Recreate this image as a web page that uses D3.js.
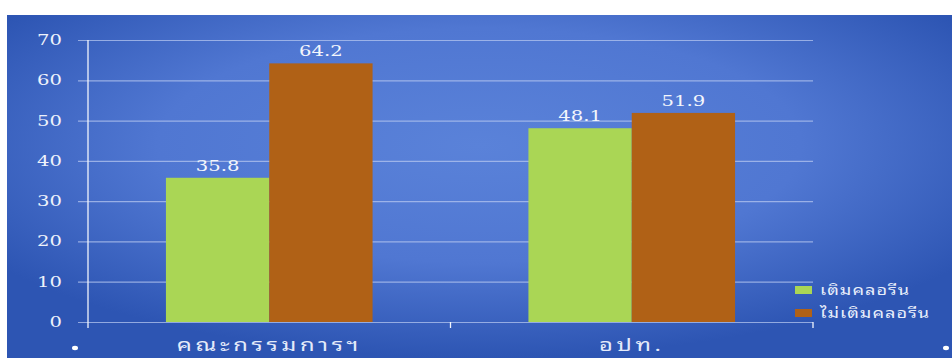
<!DOCTYPE html>
<html>
<head>
<meta charset="utf-8">
<script src="https://cdn.jsdelivr.net/npm/d3@7"></script>
<style>
  body { margin: 0; background: #fff; }
  svg { display: block; }
</style>
</head>
<body>
<div id="chart"></div>
<script>
// data
var categories = ["คณะกรรมการฯ", "อปท."];
var seriesNames = ["เติมคลอรีน", "ไม่เติมคลอรีน"];
var withChlorine = [35.8, 48.1];
var withoutChlorine = [64.2, 51.9];
var yTicks = [0, 10, 20, 30, 40, 50, 60, 70];

var seriesColors = ["#aad655", "#b06116"];

// the source picture is stretched sideways, so text gets a horizontal scale
var stretch = 1.4;
var thaiFont = "'Noto Sans Thai Looped', 'Noto Sans Thai', 'Noto Sans', sans-serif";

var W = 952, H = 358;
var margin = { top: 40, right: 139, bottom: 36, left: 88 },
    plotW = W - margin.left - margin.right,
    plotH = H - margin.top - margin.bottom;

var svg = d3.select("#chart").append("svg")
    .attr("width", W)
    .attr("height", H);

// background panel with soft radial light
var defs = svg.append("defs");
var grad = defs.append("radialGradient")
    .attr("id", "bg")
    .attr("cx", "50%").attr("cy", "38%")
    .attr("r", "62%");
grad.append("stop").attr("offset", "0%").attr("stop-color", "#5a82d9");
grad.append("stop").attr("offset", "55%").attr("stop-color", "#5077d2");
grad.append("stop").attr("offset", "100%").attr("stop-color", "#2d55b3");

svg.append("rect")
    .attr("x", 7).attr("y", 15)
    .attr("width", W - 7).attr("height", H - 15)
    .attr("fill", "url(#bg)");

var g = svg.append("g")
    .attr("transform", "translate(" + margin.left + "," + margin.top + ")");

var y = d3.scaleLinear().domain([0, 70]).range([plotH, 0]);

var x0 = d3.scaleBand()
    .domain(categories)
    .range([0, plotW])
    .paddingInner(0.43)
    .paddingOuter(0.215);

var x1 = d3.scaleBand()
    .domain(seriesNames)
    .range([0, x0.bandwidth()]);

// gridlines + tick labels
var yAxis = g.append("g")
    .attr("transform", "translate(-10,0)")
    .call(d3.axisLeft(y).tickValues(yTicks).tickSize(-(plotW + 10)).tickPadding(16 / stretch));
yAxis.select(".domain").remove();
yAxis.selectAll(".tick line")
    .attr("stroke", "#b4c6ef")
    .attr("stroke-opacity", 0.75)
    .attr("stroke-width", 1.2);
yAxis.selectAll(".tick text")
    .attr("fill", "#eef2fb")
    .attr("transform", "scale(" + stretch + ",1)")
    .style("font-family", "'DejaVu Serif', serif")
    .style("font-size", "14px");

// vertical axis line
g.append("line")
    .attr("x1", 0).attr("x2", 0)
    .attr("y1", 0).attr("y2", plotH + 6)
    .attr("stroke", "#f2f5fc")
    .attr("stroke-width", 1.3);

// x tick marks between / after groups
var xTickPos = [plotW / 2, plotW];
g.selectAll(".xtick")
    .data(xTickPos)
  .enter().append("line")
    .attr("x1", function(d) { return d; })
    .attr("x2", function(d) { return d; })
    .attr("y1", plotH).attr("y2", plotH + 6)
    .attr("stroke", "#f2f5fc")
    .attr("stroke-width", 1.3);

// bars
var rows = categories.map(function(c, i) {
    return { cat: c, vals: [withChlorine[i], withoutChlorine[i]] };
});

var group = g.selectAll(".grp")
    .data(rows)
  .enter().append("g")
    .attr("transform", function(d) { return "translate(" + x0(d.cat) + ",0)"; });

group.selectAll("rect")
    .data(function(d) { return d.vals.map(function(v, k) { return { s: seriesNames[k], v: v, k: k }; }); })
  .enter().append("rect")
    .attr("x", function(d) { return x1(d.s); })
    .attr("y", function(d) { return y(d.v); })
    .attr("width", x1.bandwidth())
    .attr("height", function(d) { return plotH - y(d.v); })
    .attr("fill", function(d) { return seriesColors[d.k]; });

group.selectAll(".lbl")
    .data(function(d) { return d.vals.map(function(v, k) { return { s: seriesNames[k], v: v }; }); })
  .enter().append("text")
    .attr("transform", function(d) {
        return "translate(" + (x1(d.s) + x1.bandwidth() / 2) + "," + (y(d.v) - 7) + ") scale(" + stretch + ",1)";
    })
    .attr("text-anchor", "middle")
    .attr("fill", "#f4f6fc")
    .style("font-family", "'DejaVu Serif', serif")
    .style("font-size", "14px")
    .text(function(d) { return d.v.toFixed(1); });

// category labels
g.selectAll(".cat")
    .data(categories)
  .enter().append("text")
    .attr("transform", function(d) {
        return "translate(" + (x0(d) + x0.bandwidth() / 2) + "," + (plotH + 29) + ") scale(" + stretch + ",1)";
    })
    .attr("text-anchor", "middle")
    .attr("fill", "#e4ebfa")
    .style("font-family", thaiFont)
    .style("font-size", "17px")
    .style("letter-spacing", "2.6px")
    .text(function(d) { return d; });

// bullets at bottom corners
svg.selectAll(".dot")
    .data([75, 946])
  .enter().append("ellipse")
    .attr("cx", function(d) { return d; })
    .attr("cy", 348)
    .attr("rx", 3).attr("ry", 2.2)
    .attr("fill", "#ffffff");

// legend
var legend = svg.append("g")
    .attr("transform", "translate(795,286)");
var li = legend.selectAll(".li")
    .data(seriesNames)
  .enter().append("g")
    .attr("transform", function(d, i) { return "translate(0," + (i * 23) + ")"; });
li.append("rect")
    .attr("width", 17).attr("height", 8)
    .attr("fill", function(d, i) { return seriesColors[i]; });
li.append("text")
    .attr("transform", "translate(25,9) scale(1.3,1)")
    .attr("fill", "#e8eefb")
    .style("font-family", thaiFont)
    .style("font-size", "14px")
    .style("letter-spacing", "0.8px")
    .text(function(d) { return d; });
</script>
</body>
</html>
